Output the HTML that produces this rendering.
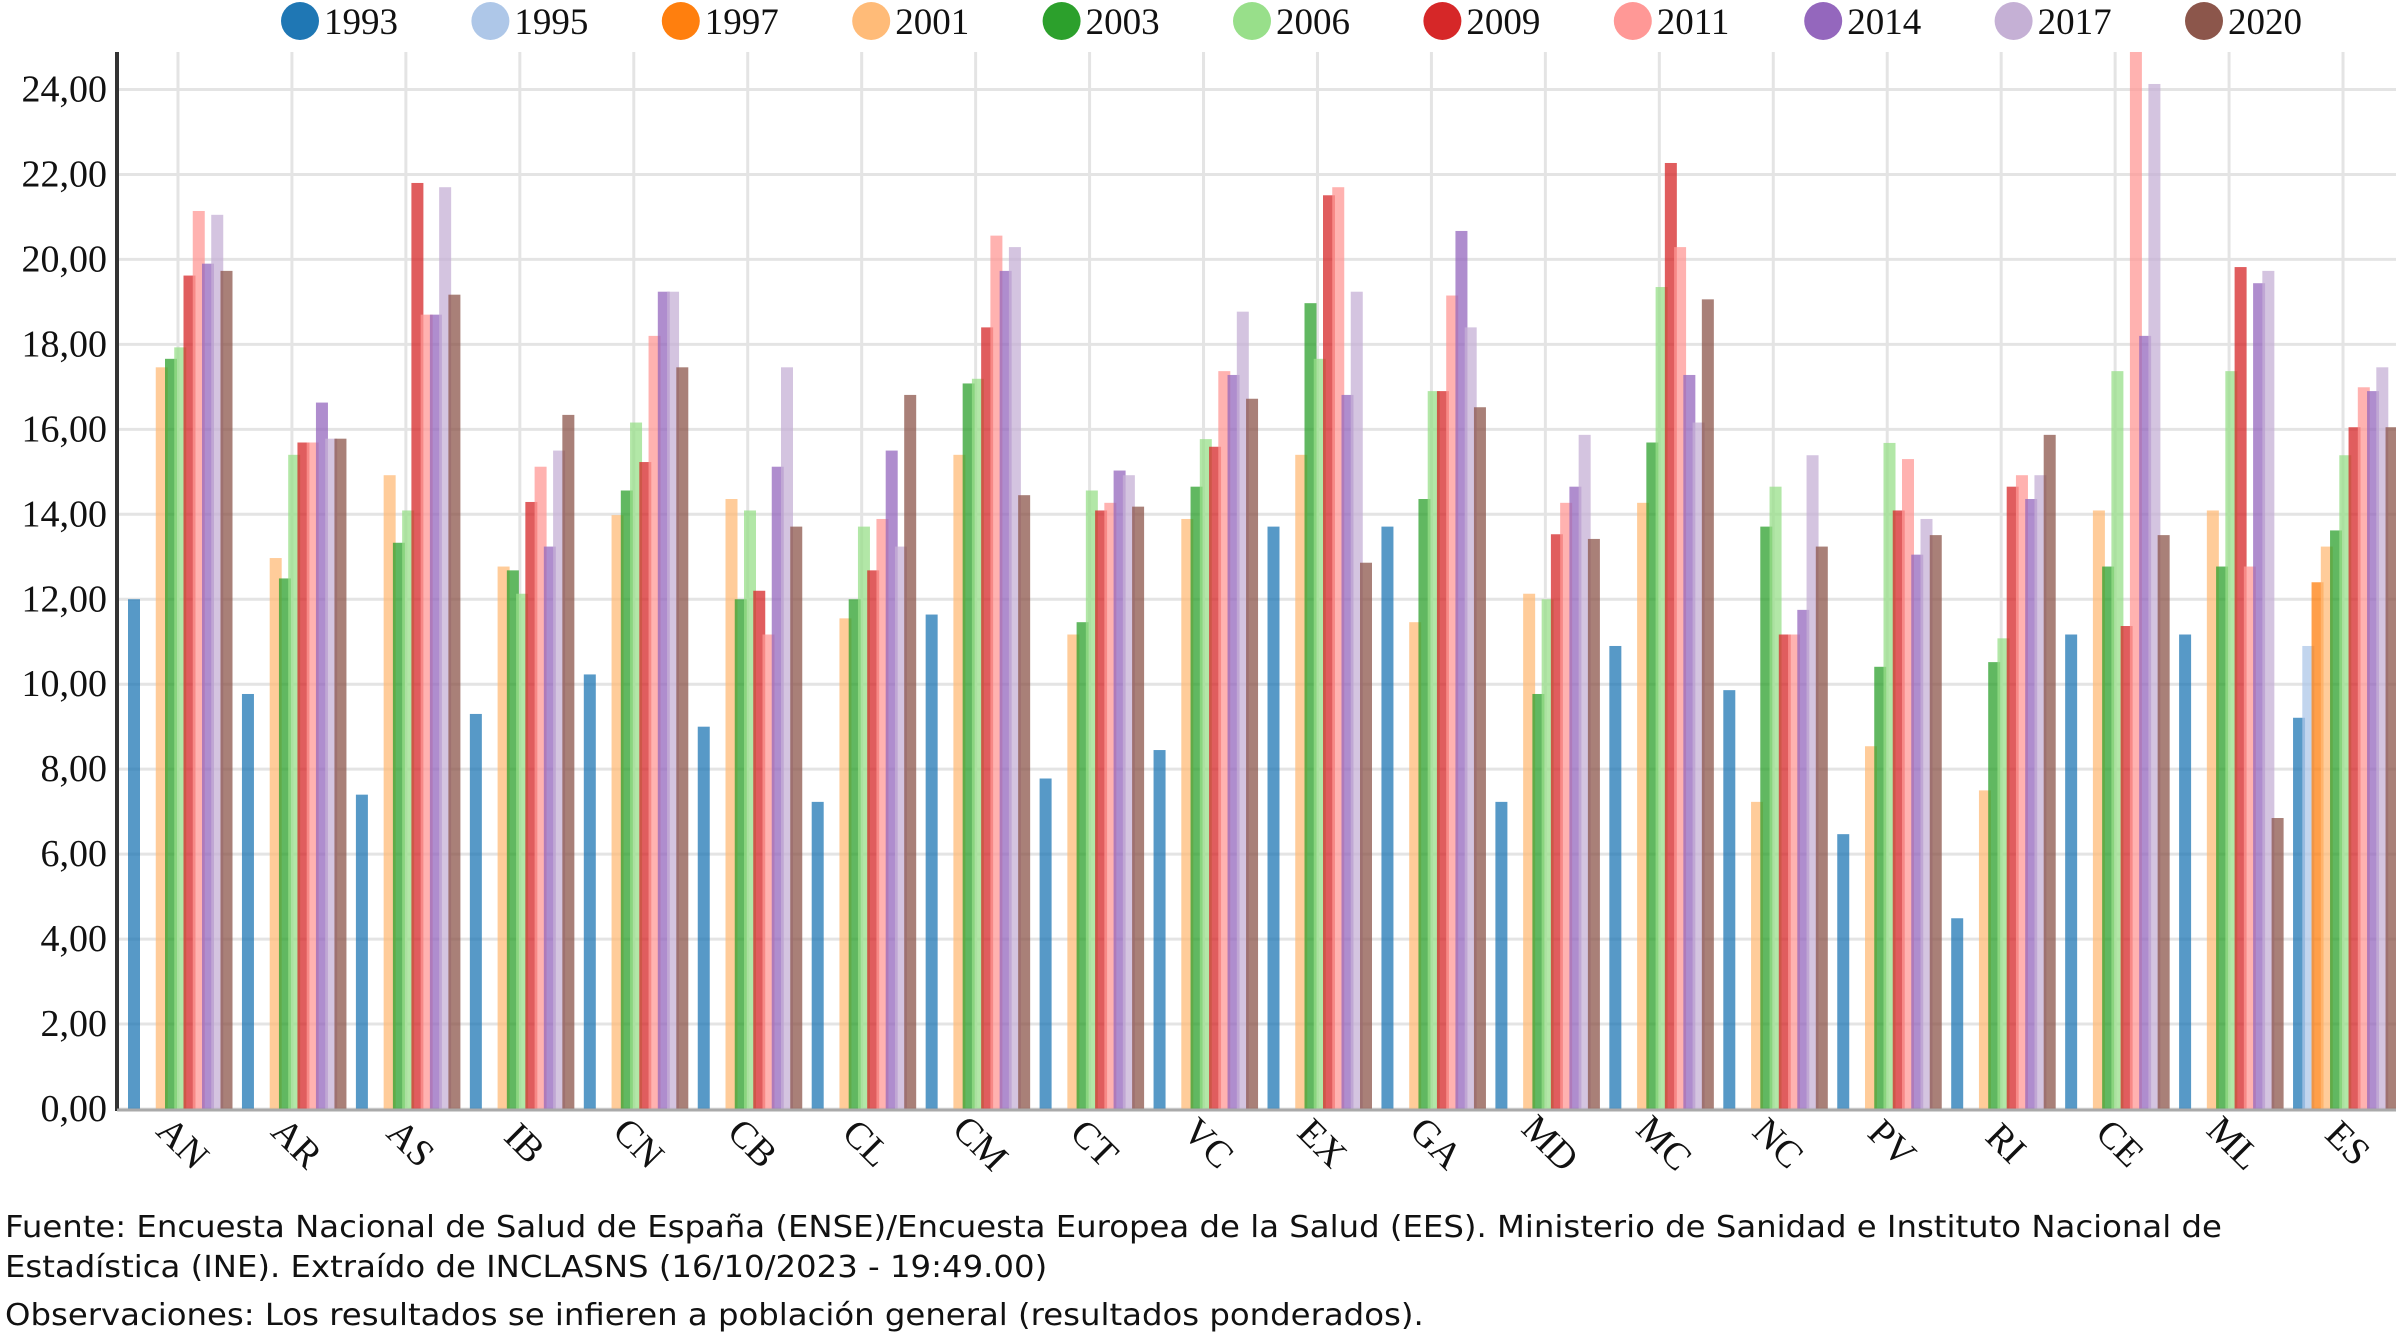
<!DOCTYPE html>
<html><head><meta charset="utf-8"><style>
body{margin:0;background:#fff;width:2400px;height:1338px;overflow:hidden}
svg text{font-family:"Liberation Serif",serif}
.foot{position:absolute;left:5px;font-family:"DejaVu Sans",sans-serif;font-size:30.5px;color:#111;line-height:40px;white-space:nowrap;transform-origin:0 0;transform:scaleX(1.06)}
</style></head><body>
<svg id="chart" width="2400" height="1338" style="position:absolute;left:0;top:0"></svg>
<div class="foot" style="top:1208px">Fuente: Encuesta Nacional de Salud de España (ENSE)/Encuesta Europea de la Salud (EES). Ministerio de Sanidad e Instituto Nacional de<br>Estadística (INE). Extraído de INCLASNS (16/10/2023 - 19:49.00)</div>
<div class="foot" style="top:1296px">Observaciones: Los resultados se infieren a población general (resultados ponderados).</div>
<script>
const categories=["AN","AR","AS","IB","CN","CB","CL","CM","CT","VC","EX","GA","MD","MC","NC","PV","RI","CE","ML","ES"];
const seriesNames=["1993","1995","1997","2001","2003","2006","2009","2011","2014","2017","2020"];
const seriesColors=["#1f77b4","#aec7e8","#ff7f0e","#ffbb78","#2ca02c","#98df8a","#d62728","#ff9896","#9467bd","#c5b0d5","#8c564b"];
const tickValues=[0,2,4,6,8,10,12,14,16,18,20,22,24];
const v1993=[12.0,9.77,7.4,9.3,10.23,9.0,7.23,11.64,7.78,8.45,13.71,13.71,7.23,10.9,9.86,6.47,4.49,11.17,11.17,9.21];
const v1995=[null,null,null,null,null,null,null,null,null,null,null,null,null,null,null,null,null,null,null,10.9];
const v1997=[null,null,null,null,null,null,null,null,null,null,null,null,null,null,null,null,null,null,null,12.4];
const v2001=[17.46,12.97,14.92,12.77,13.98,14.36,11.55,15.4,11.17,13.89,15.4,11.46,12.13,14.27,7.23,8.54,7.5,14.09,14.09,13.24];
const v2003=[17.66,12.49,13.33,12.68,14.56,12.0,12.0,17.08,11.46,14.65,18.97,14.36,9.77,15.69,13.71,10.41,10.52,12.77,12.77,13.62];
const v2006=[17.93,15.4,14.09,12.13,16.16,14.09,13.71,17.19,14.56,15.77,17.66,16.9,12.0,19.35,14.65,15.68,11.08,17.37,17.37,15.39];
const v2009=[19.62,15.69,21.8,14.29,15.23,12.2,12.68,18.4,14.09,15.59,21.51,16.9,13.53,22.27,11.17,14.09,14.65,11.37,19.82,16.05];
const v2011=[21.14,15.69,18.7,15.12,18.2,11.17,13.89,20.56,14.27,17.37,21.7,19.15,14.27,20.29,11.17,15.3,14.92,25.5,12.77,16.99];
const v2014=[19.9,16.63,18.7,13.24,19.24,15.12,15.5,19.73,15.03,17.28,16.81,20.67,14.65,17.28,11.75,13.05,14.36,18.2,19.44,16.9];
const v2017=[21.05,15.78,21.7,15.5,19.24,17.46,13.24,20.29,14.92,18.77,19.24,18.4,15.87,16.16,15.39,13.89,14.92,24.13,19.73,17.46];
const v2020=[19.73,15.78,19.17,16.34,17.46,13.71,16.81,14.45,14.18,16.72,12.86,16.52,13.42,19.06,13.24,13.51,15.87,13.51,6.85,16.05];
const seriesValues=[v1993,v1995,v1997,v2001,v2003,v2006,v2009,v2011,v2014,v2017,v2020];

const NS="http://www.w3.org/2000/svg";
const svg=document.getElementById('chart');
const X0=117,X1=2396,Y0=1109,YT=52;
const yScale=v=>Y0-v*(Y0-89.5)/24;
const band=(X1-X0)/categories.length;
const xBand=i=>X0+i*band;
function mk(t,a){const e=document.createElementNS(NS,t);for(const k in a)e.setAttribute(k,a[k]);svg.appendChild(e);return e;}

const defs=document.createElementNS(NS,'defs');
defs.innerHTML='<clipPath id="plotclip"><rect x="'+X0+'" y="'+YT+'" width="'+(X1-X0)+'" height="'+(Y0-YT)+'"/></clipPath>';
svg.appendChild(defs);

tickValues.forEach(t=>{
  const y=yScale(t);
  const g=mk('line',{x1:X0,x2:X1,y1:y,y2:y,stroke:'#e4e4e4','stroke-width':3});
  
  
  const tx=mk('text',{x:107,y:y+12,'text-anchor':'end','font-size':38,fill:'#111'});
  tx.textContent=t.toFixed(2).replace('.',',');
  
  
});
categories.forEach((c,i)=>{
  const cx=xBand(i)+band/2+4;
  const g=mk('line',{x1:cx,x2:cx,y1:YT,y2:Y0,stroke:'#e4e4e4','stroke-width':3});
  
  
});
categories.forEach((c,gi)=>{
  const left=xBand(gi)+11;
  seriesValues.forEach((arr,si)=>{
    const v=arr[gi];
    if(v==null)return;
    const y=yScale(v);
    const r=mk('rect',{x:left+si*9.25,y:y,width:12,height:Y0-y,fill:seriesColors[si],'fill-opacity':0.75,'clip-path':'url(#plotclip)'});
    
    
  });
  const cx=xBand(gi)+band/2;
  const t=mk('text',{x:cx,y:1152,'text-anchor':'middle','font-size':38,fill:'#111',transform:'rotate(45 '+cx+' 1152)'});
  t.textContent=c;
  
  
});
const ax=mk('line',{x1:X0,x2:X0,y1:YT,y2:Y0+2,stroke:'#333','stroke-width':4});


const bx=mk('line',{x1:X0,x2:X1,y1:Y0+1,y2:Y0+1,stroke:'#aaa','stroke-width':3});



seriesNames.forEach((s,i)=>{
  const cx=300+i*190.4;
  const c=mk('circle',{cx:cx,cy:21,r:19,fill:seriesColors[i]});
  
  
  const t=mk('text',{x:cx+24,y:34,'font-size':37,fill:'#111'});
  t.textContent=s;
  
  
});
</script>
</body></html>
